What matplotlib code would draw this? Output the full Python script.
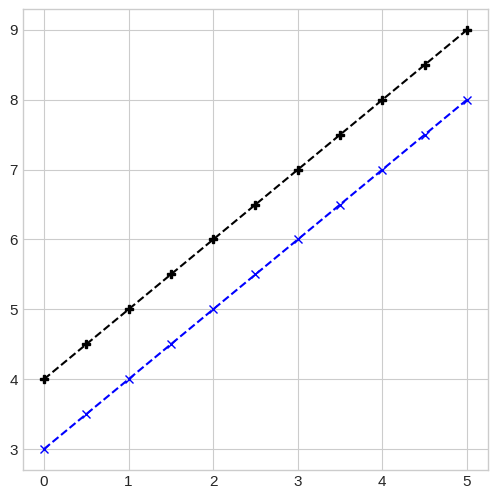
import matplotlib
matplotlib.use("Agg")
import matplotlib.pyplot as plt
import numpy as np

plt.style.use("seaborn-v0_8-whitegrid")
plt.rcParams['font.family'] = ['Liberation Sans', 'DejaVu Sans']

x = [0, 0.5, 1, 1.5, 2, 2.5, 3, 3.5, 4, 4.5, 5]
y_black = [4, 4.5, 5, 5.5, 6, 6.5, 7, 7.5, 8, 8.5, 9]
y_blue = [3, 3.5, 4, 4.5, 5, 5.5, 6, 6.5, 7, 7.5, 8]

fig, ax = plt.subplots(figsize=(4.97, 5.0), dpi=100)
ax.plot(x, y_black, color="black", linestyle="--", marker="P")
ax.plot(x, y_blue, color="blue", linestyle="--", marker="x")
ax.tick_params(labelsize=11)
fig.subplots_adjust(left=0.046, right=0.982, top=0.982, bottom=0.06)
fig.savefig("out.png", dpi=100)
